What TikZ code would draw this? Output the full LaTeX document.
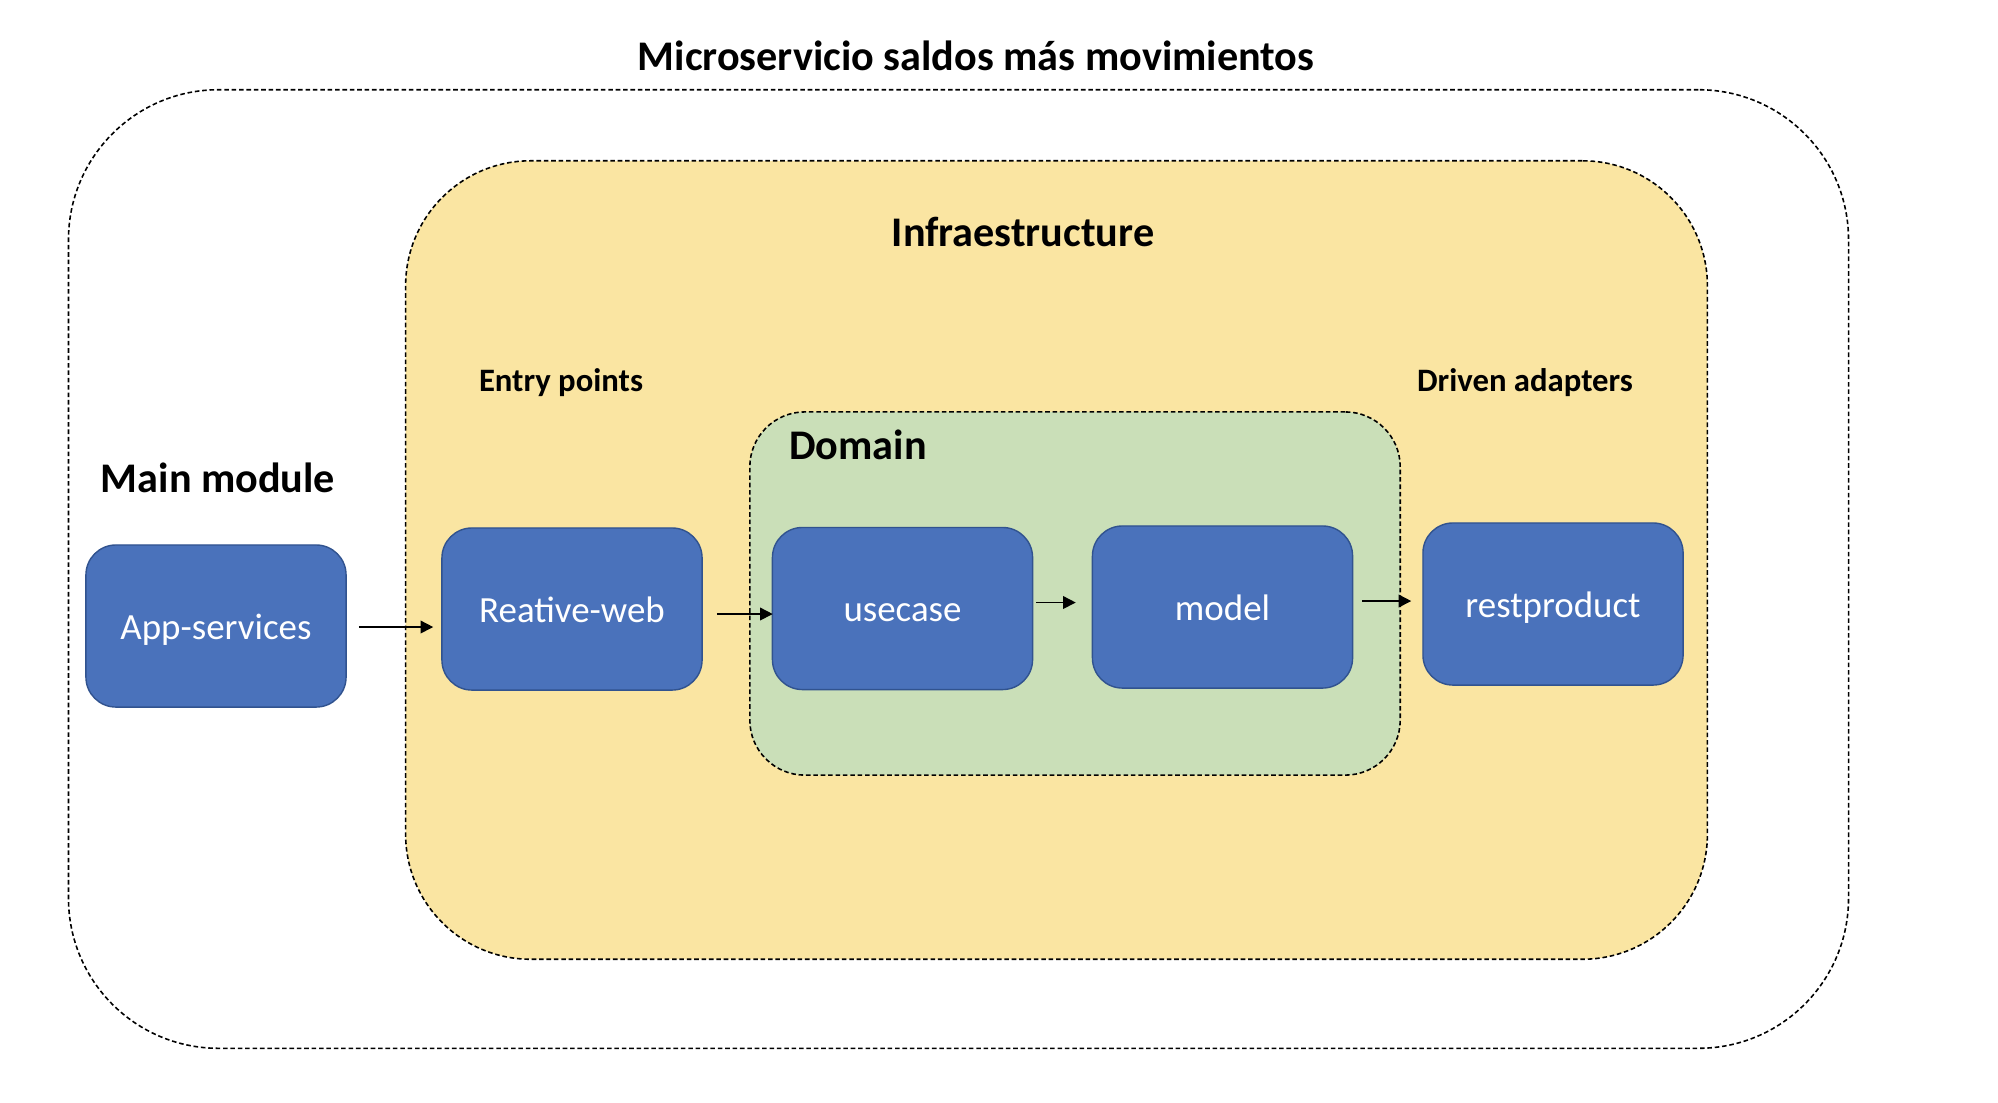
\documentclass[tikz,border=0pt]{standalone}
\usepackage{fontspec}
\setmainfont{Carlito}
\usepackage{tikz}
\usetikzlibrary{arrows.meta}
\usetikzlibrary{positioning}

\definecolor{moduleblue}{HTML}{4A72BB}
\definecolor{moduleline}{HTML}{31538F}
\definecolor{infrayellow}{HTML}{FAE5A2}
\definecolor{domaingreen}{HTML}{CADFB8}

\begin{document}
\begin{tikzpicture}[
        x = 0.01cm, y = -0.01cm,
        module/.style = {draw = moduleline, fill = moduleblue, rounded corners = 0.3cm,
                         minimum width = 2.6cm, minimum height = 1.62cm, line width = 0.4pt,
                         text = white, text height = 1em, text depth = 0.25em,
                         font = \fontsize{10.5}{13}\selectfont},
        layer/.style = {draw, dash pattern = on 1.3pt off 0.8pt, line width = 0.45pt},
        heading/.style = {font = \bfseries\fontsize{12}{15}\selectfont},
        subheading/.style = {font = \bfseries\fontsize{9.3}{11}\selectfont},
        link/.style = {-{Triangle[length = 3.6pt, width = 3.6pt]}, line width = 0.45pt},
        ]
        \useasboundingbox (0,0) rectangle (1998,1102);

        % containers
        \node[layer, rounded corners = 1.5cm, minimum width = 17.79cm, minimum height = 9.58cm]
            (micro) at (958.5,569) {};
        \node[layer, fill = infrayellow, rounded corners = 1.25cm,
              minimum width = 13.01cm, minimum height = 7.98cm] (infra) at (1056.5,560) {};
        \node[layer, fill = domaingreen, rounded corners = 0.55cm,
              minimum width = 6.5cm, minimum height = 3.63cm] (domain) at (1075,593.5) {};

        % labels
        \node[heading] (microtitle) at (976,56) {Microservicio saldos más movimientos};
        \node[heading] (infratitle) at (1023,232) {Infraestructure};
        \node[heading] (maintitle) at (218,478) {Main module};
        \node[heading] (domaintitle) at (858,445) {Domain};
        \node[subheading] (entry) at (561,383) {Entry points};
        \node[subheading] (driven) at (1525,383) {Driven adapters};

        % modules
        \node[module] (app) at (216,626) {App-services};
        \node[module] (web) at (572,609) {Reative-web};
        \node[module] (usecase) at (902.5,608.5) {usecase};
        \node[module] (model) at (1222.5,607) {model};
        \node[module] (rest) at (1553,604) {restproduct};

        \draw[link] ([shift = {(12,1)}]app.east) -- ([shift = {(-8,1)}]app.east -| web.west);
        \draw[link] ([shift = {(14,5)}]web.east) -- ([shift = {(1,5)}]web.east -| usecase.west);
        \draw[link] ([shift = {(3,-6)}]usecase.east) -- ([shift = {(-16,-6)}]usecase.east -| model.west);
        \draw[link] ([shift = {(9,-6)}]model.east) -- ([shift = {(-11,-6)}]model.east -| rest.west);
\end{tikzpicture}
\end{document}
